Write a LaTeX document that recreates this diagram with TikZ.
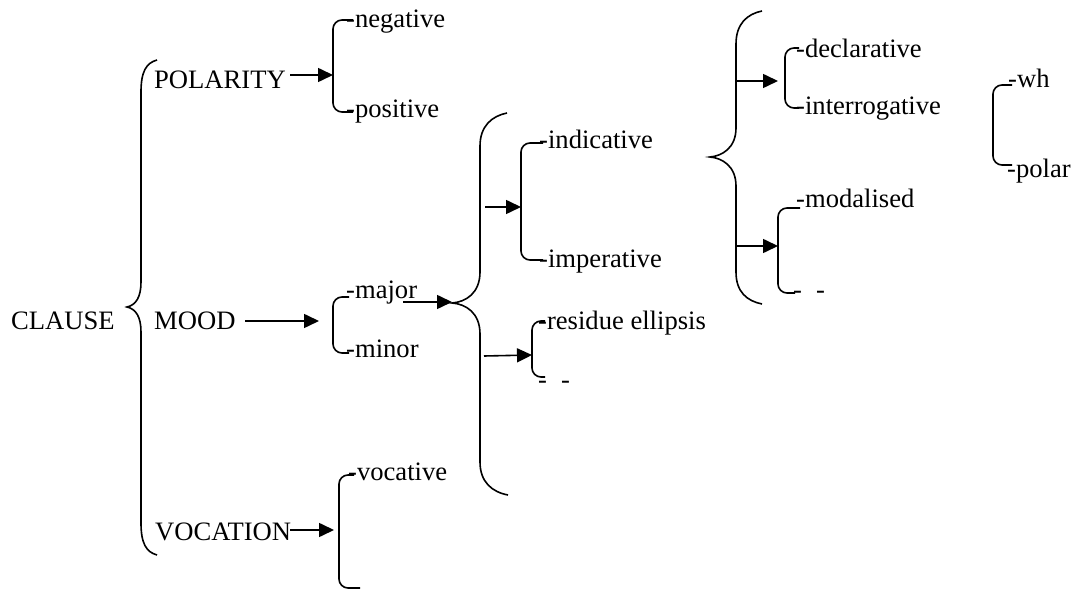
\documentclass[tikz,border=0pt]{standalone}
\usepackage{fontspec}
\setmainfont{Liberation Serif}
\newfontfamily\tnr{Liberation Serif}
\usetikzlibrary{arrows.meta}
\begin{document}
\begin{tikzpicture}[x=1pt,y=-1pt,
  lbl/.style={inner sep=0pt, anchor=base west, font=\tnr\fontsize{26.6}{30}\selectfont},
  ln/.style={line width=1.6pt},
  arr/.style={ln, -{Triangle[length=15pt,width=14pt]}},
  brk/.style={ln, rounded corners=9pt}]
\useasboundingbox (0,0) rectangle (1077,593);
% labels
\node[lbl] (clause) at (11,330) {CLAUSE};
\node[lbl] (pol) at (154,89) {POLARITY};
\node[lbl] (mood) at (154,330) {MOOD};
\node[lbl] (voc) at (155,540) {VOCATION};
\node[lbl] (neg) at (346,28) {-negative};
\node[lbl] (posi) at (346,118) {-positive};
\node[lbl] (maj) at (346,299) {-major};
\node[lbl] (mnr) at (346,358) {-minor};
\node[lbl] (ind) at (539,149) {-indicative};
\node[lbl] (imp) at (539,268) {-imperative};
\node[lbl] (res) at (538,330) {-residue ellipsis};
\node[lbl] (resd) at (538,389) {-\hspace{0.53em}-};
\node[lbl] (dec) at (796,58) {-declarative};
\node[lbl] (int) at (796,115) {-interrogative};
\node[lbl] (mdl) at (796,208) {-modalised};
\node[lbl] (mdld) at (793,299) {-\hspace{0.53em}-};
\node[lbl] (wh) at (1008,88) {-wh};
\node[lbl] (polar) at (1007,178) {-polar};
\node[lbl] (vocv) at (348,481) {-vocative};
% braces
\draw[ln] (157,60) .. controls (146,63) and (141,72) .. (141,92) -- (141,282)
  .. controls (141,297) and (136,305) .. (127,307)
  .. controls (136,309) and (141,317) .. (141,332) -- (141,523)
  .. controls (141,543) and (146,552) .. (157,555);
\draw[ln] (507,113) .. controls (492,116) and (480,126) .. (480,146) -- (480,272)
  .. controls (480,293) and (466,302) .. (452,303)
  .. controls (466,304) and (480,313) .. (480,334) -- (480,462)
  .. controls (480,482) and (492,492) .. (508,495);
\draw[ln] (762,11) .. controls (747,14) and (736,24) .. (736,44) -- (736,128)
  .. controls (736,148) and (722,156) .. (710,157)
  .. controls (722,158) and (736,166) .. (736,186) -- (736,272)
  .. controls (736,292) and (747,301) .. (762,304);
% brackets
\draw[brk] (353,20) -- (333,20) -- (333,112) -- (353,112);
\draw[brk] (349,297) -- (333,297) -- (333,353) -- (349,353);
\draw[brk] (543,143) -- (521,143) -- (521,260) -- (543,260);
\draw[brk] (545,321) -- (532,321) -- (532,377) -- (545,377);
\draw[brk] (799,48) -- (785,48) -- (785,108) -- (799,108);
\draw[brk] (800,208) -- (778,208) -- (778,293) -- (795,293);
\draw[brk] (1012,85) -- (993,85) -- (993,165) -- (1012,165);
\draw[brk] (354,475) -- (339,475) -- (339,588) -- (360,588);
% arrow end points
\coordinate (polA) at (290,75);  \coordinate (polB) at (333,75);
\coordinate (moodA) at (245,321); \coordinate (moodB) at (319,321);
\coordinate (majA) at (403,302); \coordinate (majB) at (452,302);
\coordinate (indA) at (485,207); \coordinate (indB) at (521,207);
\coordinate (resA) at (484,356); \coordinate (resB) at (532,355);
\coordinate (decA) at (737,81);  \coordinate (decB) at (778,81);
\coordinate (mdlA) at (737,246); \coordinate (mdlB) at (778,246);
\coordinate (vocA) at (290,530); \coordinate (vocB) at (334,530);
\draw[arr] (polA) -- (polB);
\draw[arr] (moodA) -- (moodB);
\draw[arr] (majA) -- (majB);
\draw[arr] (indA) -- (indB);
\draw[arr] (resA) -- (resB);
\draw[arr] (decA) -- (decB);
\draw[arr] (mdlA) -- (mdlB);
\draw[arr] (vocA) -- (vocB);
\end{tikzpicture}
\end{document}
